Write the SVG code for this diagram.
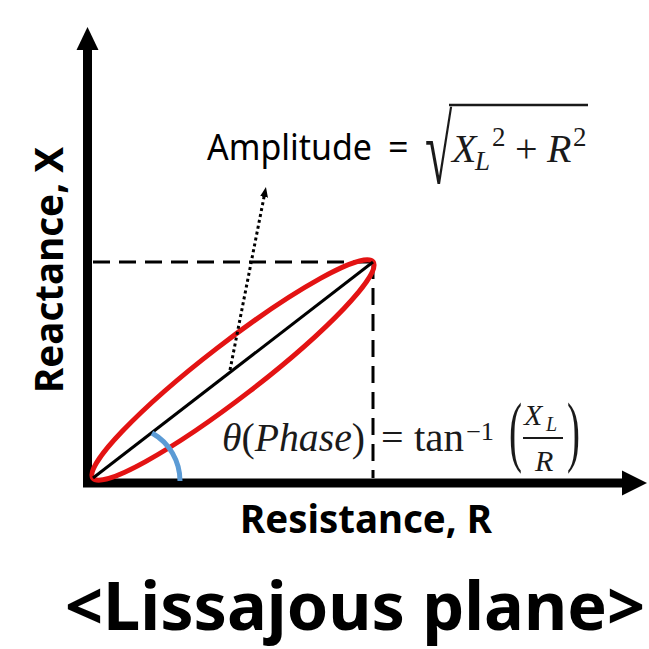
<svg xmlns="http://www.w3.org/2000/svg" width="649" height="649" viewBox="0 0 649 649">
<style>
.sans{font-family:"Noto Sans","Open Sans","DejaVu Sans",sans-serif;fill:#000}
.bold{font-weight:bold}
.math{font-family:"Liberation Serif","DejaVu Serif",serif;fill:#1a1a1a}
.it{font-style:italic}
.axis{stroke:#000;stroke-width:9;fill:none}
.dash{stroke:#000;stroke-width:3;stroke-dasharray:17 9;fill:none}
</style>
<defs>
<marker id="dotArrow" markerWidth="10" markerHeight="10" refX="5" refY="5" orient="auto" markerUnits="userSpaceOnUse">
<path d="M0,1 L10,5 L0,9 z" fill="#000"/>
</marker>
</defs>
<rect width="649" height="649" fill="#fff"/>

<g id="axes">
<line class="axis" x1="87.5" y1="487" x2="87.5" y2="45"/>
<polygon points="87.5,27 76.5,50 98.5,50" fill="#000"/>
<line class="axis" x1="83" y1="483" x2="625" y2="483"/>
<polygon points="647,483 622,470.5 622,495.5" fill="#000"/>
</g>

<g id="guides">
<line class="dash" x1="93" y1="262" x2="373" y2="262"/>
<line class="dash" x1="373" y1="262" x2="373" y2="478"/>
</g>

<g id="lissajous">
<ellipse cx="233" cy="370" rx="177" ry="27" transform="rotate(-37.65 233 370)" fill="none" stroke="#e31313" stroke-width="5"/>
<line x1="93" y1="478" x2="373" y2="262" stroke="#000" stroke-width="3"/>
<path d="M152,433 A55,55 0 0 1 180,481" fill="none" stroke="#5b9bd5" stroke-width="5"/>
</g>

<g id="connectors">
<line x1="230" y1="370" x2="265" y2="192" stroke="#000" stroke-width="3" stroke-dasharray="3 3" marker-end="url(#dotArrow)"/>
</g>

<g id="amplitude-label">
<text class="sans" x="207" y="160" font-size="36" textLength="165" lengthAdjust="spacingAndGlyphs">Amplitude</text>
<text class="sans" x="388" y="160" font-size="36">=</text>
<text class="math" transform="translate(425,183) scale(0.8,1.56)" x="0" y="0" font-size="62">√</text>
<line x1="449" y1="105" x2="588" y2="105" stroke="#1a1a1a" stroke-width="2.5"/>
<text class="math it" x="452" y="162" font-size="40">X</text>
<text class="math it" x="475" y="170" font-size="27">L</text>
<text class="math" x="492" y="146" font-size="27">2</text>
<text class="math" x="515" y="162" font-size="40">+</text>
<text class="math it" x="547" y="162" font-size="40">R</text>
<text class="math" x="573" y="146" font-size="27">2</text>
</g>

<g id="phase-label">
<text class="math" x="222" y="451" font-size="40" textLength="143" lengthAdjust="spacingAndGlyphs"><tspan class="it">θ</tspan>(<tspan class="it">Phase</tspan>)</text>
<text class="math" x="381" y="451" font-size="40">=</text>
<text class="math" x="414" y="451" font-size="40" textLength="50" lengthAdjust="spacingAndGlyphs">tan</text>
<text class="math" x="466" y="440" font-size="25" textLength="28" lengthAdjust="spacingAndGlyphs">−1</text>
<text class="math" transform="translate(509,457) scale(0.5,1)" x="0" y="0" font-size="78">(</text>
<text class="math it" x="524" y="425" font-size="30">X</text>
<text class="math it" x="546" y="431" font-size="20">L</text>
<line x1="523" y1="438" x2="563" y2="438" stroke="#1a1a1a" stroke-width="2"/>
<text class="math it" x="535" y="471" font-size="30">R</text>
<text class="math" transform="translate(567,457) scale(0.5,1)" x="0" y="0" font-size="78">)</text>
</g>

<g id="axis-labels">
<text class="sans bold" x="240" y="533" font-size="39" textLength="252" lengthAdjust="spacingAndGlyphs">Resistance, R</text>
<text class="sans bold" transform="translate(63,393) rotate(-90)" x="0" y="0" font-size="40" textLength="246" lengthAdjust="spacingAndGlyphs">Reactance, X</text>
</g>

<g id="title">
<text class="sans bold" x="65" y="630" font-size="67" textLength="580" lengthAdjust="spacingAndGlyphs">&lt;Lissajous plane&gt;</text>
</g>
</svg>
